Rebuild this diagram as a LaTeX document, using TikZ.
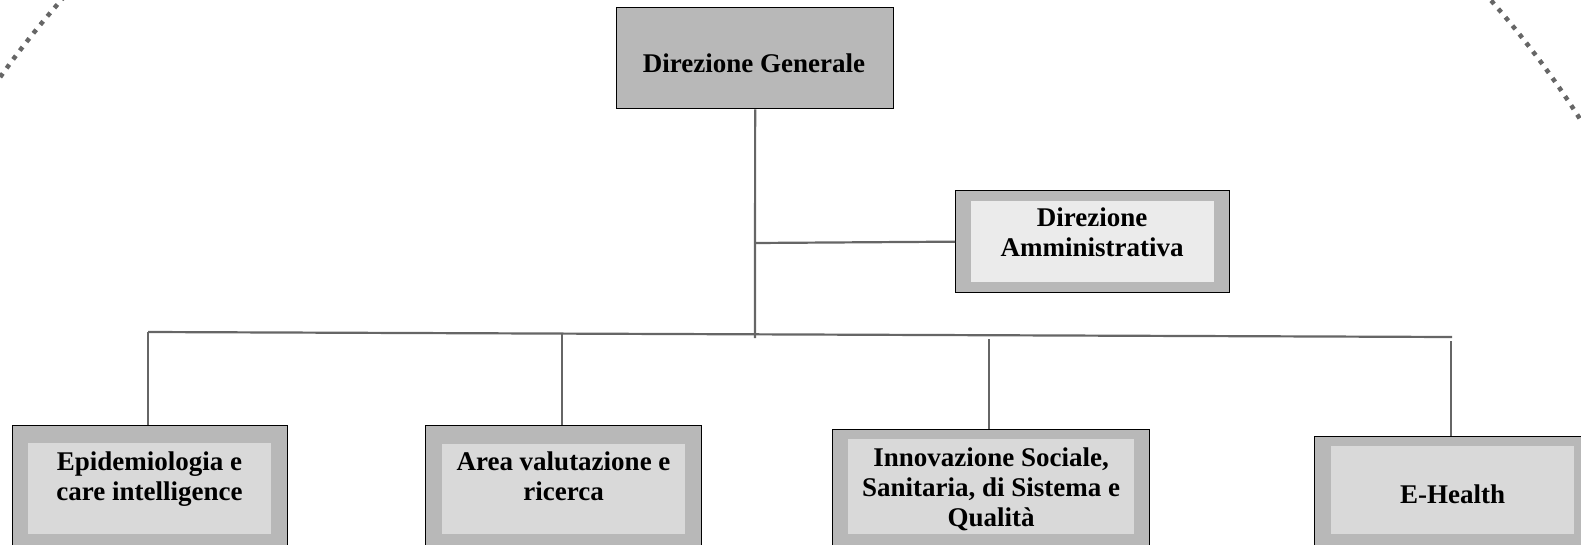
\documentclass[tikz,border=0pt]{standalone}
\usepackage{fontspec}
\setmainfont{Liberation Serif}

\definecolor{boxgray}{HTML}{B8B8B8}
\definecolor{boxlight}{HTML}{D9D9D9}
\definecolor{boxpale}{HTML}{EBEBEB}
\definecolor{linkgray}{HTML}{666666}
\definecolor{dotgray}{HTML}{666666}

\tikzset{
  outerbox/.style={draw=black, line width=1.3pt, fill=boxgray, anchor=north west, inner sep=0pt},
  innerbox/.style={fill=boxlight, anchor=north west, inner sep=0pt},
  boxtext/.style={align=center, inner sep=0pt, font=\fontsize{27}{30}\selectfont\bfseries},
  link/.style={draw=linkgray, line width=2.2pt}
}

\begin{document}
\begin{tikzpicture}[x=1pt,y=-1pt]
    % Page frame
    \useasboundingbox (0,0) rectangle (1581,544);
    \clip (0,0) rectangle (1581,544);

    % Dotted circle in the background
    \draw[dotgray, line width=4.5pt, dash pattern=on 4.5pt off 6.5pt] (776,629) circle[radius=952pt];

    % Top: Direzione Generale
    \node[outerbox, minimum width=277pt, minimum height=101pt] (dirgen) at (616,7) {};
    \node[boxtext] (dirgentxt) at (754,63) {Direzione Generale};

    % Staff: Direzione Amministrativa
    \node[outerbox, minimum width=274pt, minimum height=102pt] (diramm) at (955,190) {};
    \node[innerbox, fill=boxpale, minimum width=243pt, minimum height=81pt] (dirammin) at (971,201) {};
    \node[boxtext] (dirammtxt) at (1092,232) {Direzione\\Amministrativa};

    % Bottom row of areas
    \node[outerbox, minimum width=275pt, minimum height=140pt] (epi) at (12,425) {};
    \node[innerbox, minimum width=243pt, minimum height=91pt] (epiin) at (28,443) {};
    \node[boxtext] (epitxt) at (149.5,479) {Epidemiologia e\\care intelligence};

    \node[outerbox, minimum width=276pt, minimum height=140pt] (area) at (425,425) {};
    \node[innerbox, minimum width=243pt, minimum height=90pt] (areain) at (442,444) {};
    \node[boxtext] (areatxt) at (563.5,476) {Area valutazione e\\ricerca};

    \node[outerbox, minimum width=317pt, minimum height=140pt] (innov) at (832,429) {};
    \node[innerbox, minimum width=286pt, minimum height=95pt] (innovin) at (848,439) {};
    \node[boxtext] (innovtxt) at (991,489) {Innovazione Sociale,\\Sanitaria, di Sistema e\\Qualità};

    \node[outerbox, minimum width=300pt, minimum height=140pt] (ehealth) at (1314,436) {};
    \node[innerbox, minimum width=243pt, minimum height=88pt] (ehealthin) at (1331,446) {};
    \node[boxtext] (ehealthtxt) at (1452.5,494) {E-Health};

    % Connectors
    \coordinate (trunkend) at (755,338);
    \coordinate (tap) at (755,243);
    \draw[link] (dirgen.south) -- (trunkend);
    \draw[link] (tap) -- (diramm.west);
    \coordinate (busL) at (148,332);
    \coordinate (busR) at (1452,337);
    \draw[link] (busL) -- (busR);
    \foreach \n/\x/\y in {epi/148/332, area/562/333, innov/989/339, ehealth/1451/341} {
        \draw[link] (\x,\y) coordinate (top\n) -- (top\n |- \n.north);
    }

\end{tikzpicture}
\end{document}
